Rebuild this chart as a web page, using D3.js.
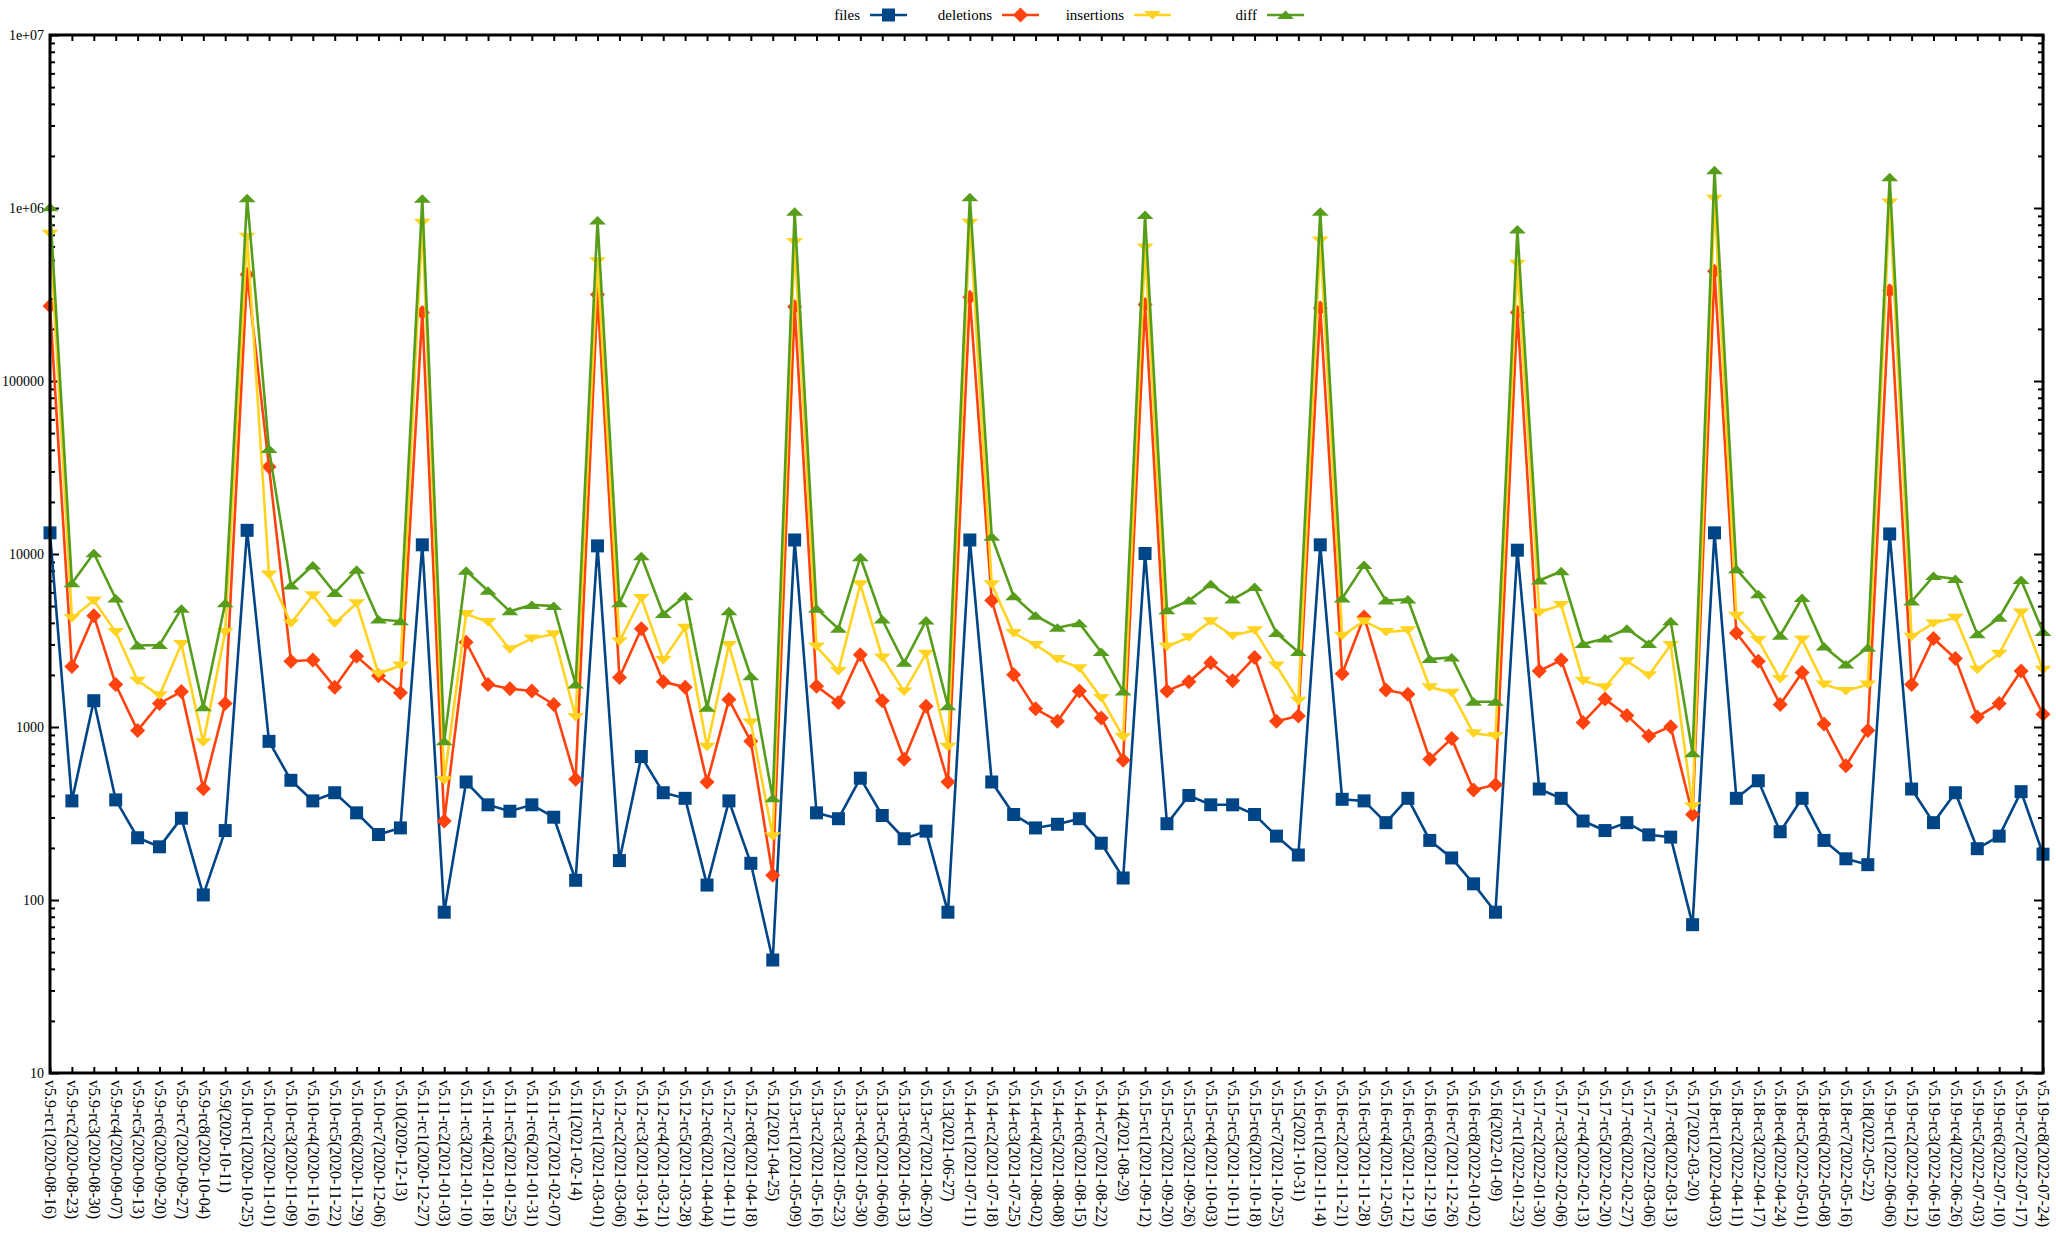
<!DOCTYPE html>
<html><head><meta charset="utf-8">
<script src="https://cdn.jsdelivr.net/npm/d3@7"></script>
<style>body{margin:0;background:#fff}svg{display:block}</style>
</head><body><svg id="chart" width="2056" height="1234"></svg>
<script>
const categories = [
"v5.9-rc1(2020-08-16)","v5.9-rc2(2020-08-23)","v5.9-rc3(2020-08-30)","v5.9-rc4(2020-09-07)","v5.9-rc5(2020-09-13)","v5.9-rc6(2020-09-20)","v5.9-rc7(2020-09-27)","v5.9-rc8(2020-10-04)","v5.9(2020-10-11)",
"v5.10-rc1(2020-10-25)","v5.10-rc2(2020-11-01)","v5.10-rc3(2020-11-09)","v5.10-rc4(2020-11-16)","v5.10-rc5(2020-11-22)","v5.10-rc6(2020-11-29)","v5.10-rc7(2020-12-06)","v5.10(2020-12-13)",
"v5.11-rc1(2020-12-27)","v5.11-rc2(2021-01-03)","v5.11-rc3(2021-01-10)","v5.11-rc4(2021-01-18)","v5.11-rc5(2021-01-25)","v5.11-rc6(2021-01-31)","v5.11-rc7(2021-02-07)","v5.11(2021-02-14)",
"v5.12-rc1(2021-03-01)","v5.12-rc2(2021-03-06)","v5.12-rc3(2021-03-14)","v5.12-rc4(2021-03-21)","v5.12-rc5(2021-03-28)","v5.12-rc6(2021-04-04)","v5.12-rc7(2021-04-11)","v5.12-rc8(2021-04-18)","v5.12(2021-04-25)",
"v5.13-rc1(2021-05-09)","v5.13-rc2(2021-05-16)","v5.13-rc3(2021-05-23)","v5.13-rc4(2021-05-30)","v5.13-rc5(2021-06-06)","v5.13-rc6(2021-06-13)","v5.13-rc7(2021-06-20)","v5.13(2021-06-27)",
"v5.14-rc1(2021-07-11)","v5.14-rc2(2021-07-18)","v5.14-rc3(2021-07-25)","v5.14-rc4(2021-08-02)","v5.14-rc5(2021-08-08)","v5.14-rc6(2021-08-15)","v5.14-rc7(2021-08-22)","v5.14(2021-08-29)",
"v5.15-rc1(2021-09-12)","v5.15-rc2(2021-09-20)","v5.15-rc3(2021-09-26)","v5.15-rc4(2021-10-03)","v5.15-rc5(2021-10-11)","v5.15-rc6(2021-10-18)","v5.15-rc7(2021-10-25)","v5.15(2021-10-31)",
"v5.16-rc1(2021-11-14)","v5.16-rc2(2021-11-21)","v5.16-rc3(2021-11-28)","v5.16-rc4(2021-12-05)","v5.16-rc5(2021-12-12)","v5.16-rc6(2021-12-19)","v5.16-rc7(2021-12-26)","v5.16-rc8(2022-01-02)","v5.16(2022-01-09)",
"v5.17-rc1(2022-01-23)","v5.17-rc2(2022-01-30)","v5.17-rc3(2022-02-06)","v5.17-rc4(2022-02-13)","v5.17-rc5(2022-02-20)","v5.17-rc6(2022-02-27)","v5.17-rc7(2022-03-06)","v5.17-rc8(2022-03-13)","v5.17(2022-03-20)",
"v5.18-rc1(2022-04-03)","v5.18-rc2(2022-04-11)","v5.18-rc3(2022-04-17)","v5.18-rc4(2022-04-24)","v5.18-rc5(2022-05-01)","v5.18-rc6(2022-05-08)","v5.18-rc7(2022-05-16)","v5.18(2022-05-22)",
"v5.19-rc1(2022-06-06)","v5.19-rc2(2022-06-12)","v5.19-rc3(2022-06-19)","v5.19-rc4(2022-06-26)","v5.19-rc5(2022-07-03)","v5.19-rc6(2022-07-10)","v5.19-rc7(2022-07-17)","v5.19-rc8(2022-07-24)"
];

const files = [
13250,374,1419,379,229,203,297,107,252,13700,826,492,374,417,319,239,
261,11300,85,481,355,326,355,301,130,11140,169,675,417,387,122,
374,163,45,12050,319,295,506,308,226,250,85,12050,481,312,261,
274,295,213,134,10070,276,402,355,355,312,234,182,11300,382,374,
280,387,221,175,124,85,10520,438,387,286,252,280,238,231,72,
13250,387,489,248,387,221,173,160,13060,438,280,417,198,234,423,184];

const deletions = [
271000,2234,4400,1762,955,1368,1604,439,1368,412000,31900,2400,2437,1700,2560,1980,
1580,249000,286,3090,1762,1663,1616,1349,499,316000,1933,3700,1825,1700,481,
1440,826,139,269000,1722,1387,2620,1419,652,1318,481,305000,5380,2004,1273,
1080,1616,1127,643,277000,1616,1825,2350,1853,2525,1080,1159,264000,2032,4330,
1637,1546,652,857,432,464,249000,2110,2437,1063,1450,1167,888,1005,312,
431000,3490,2400,1349,2065,1040,597,955,332000,1762,3250,2490,1143,1368,2110,1185];

const insertions = [
710000,4270,5380,3540,1853,1525,3020,815,3540,682000,7600,3980,5780,3980,5190,2032,
2265,823000,492,4500,4040,2810,3250,3440,1143,493000,3130,5570,2440,3750,769,
2980,1063,234,635000,2915,2110,6680,2525,1603,2655,769,823000,6680,3490,2980,
2470,2188,1470,875,592000,2915,3300,4090,3370,3620,2265,1419,649000,3370,4090,
3540,3620,1700,1580,920,888,476000,4590,5080,1853,1700,2400,1990,2980,348,
1130000,4400,3180,1893,3200,1762,1616,1762,1075000,3320,3980,4280,2140,2655,4590,2140];

const diff = [
1010000,6780,10100,5530,2960,2980,4830,1300,5190,1140000,40400,6570,8590,5960,8110,4180,
4090,1130000,826,8000,6130,4660,5080,5010,1762,847000,5190,9700,4500,5700,1290,
4660,1963,387,951000,4830,3700,9580,4180,2350,4120,1318,1155000,12600,5700,4400,
3750,3980,2710,1603,910000,4730,5380,6680,5460,6440,3490,2710,951000,5530,8650,
5380,5460,2470,2525,1400,1400,750000,7030,7940,3020,3250,3700,3020,4090,705,
1655000,8170,5860,3370,5570,2915,2300,2875,1507000,5310,7450,7180,3440,4280,7080,3540];

const seriesNames = ["files","deletions","insertions","diff"];
const seriesColors = ["#004586","#ff420e","#ffd320","#579d1c"];
const yTickValues = [10,100,1000,10000,100000,1e6,1e7];
const yTickLabels = ["10","100","1000","10000","100000","1e+06","1e+07"];

const seriesData = [files, deletions, insertions, diff];
const markers = ["square","diamond","tridown","triup"];

const svg = d3.select("#chart");
const L = 50, R = 2043, T = 35, B = 1073;
const FONT = "'Liberation Serif','Times New Roman',serif";

const x = d3.scalePoint().domain(categories).range([L, R]);
const y = d3.scaleLog().domain([10, 1e7]).range([B, T]);

function markerPath(type) {
  switch (type) {
    case "square": return "M-6.5,-6.5H6.5V6.5H-6.5Z";
    case "diamond": return "M0,-7.5L7.5,0L0,7.5L-7.5,0Z";
    case "tridown": return "M-8.5,-4H8.5L0,4.5Z";
    case "triup": return "M-8.5,4H8.5L0,-4.5Z";
  }
}

const minor = [];
for (let e = 1; e < 7; e++) for (let m = 2; m <= 9; m++) minor.push(m * Math.pow(10, e));

const gAxes = svg.append("g").attr("font-family", FONT);

const yLeft = d3.axisLeft(y).tickValues(yTickValues)
  .tickFormat((d, i) => yTickLabels[i]).tickSizeInner(-9).tickSizeOuter(0).tickPadding(6);
const gl = gAxes.append("g").attr("transform", `translate(${L},0)`).call(yLeft);
gl.select(".domain").remove();
gl.selectAll("line").attr("stroke", "#000").attr("stroke-width", 2);
gl.selectAll("text").attr("font-size", 14).attr("font-family", FONT).attr("fill", "#000");

const yLeftMinor = d3.axisLeft(y).tickValues(minor).tickFormat("").tickSizeInner(-5).tickSizeOuter(0);
const glm = gAxes.append("g").attr("transform", `translate(${L},0)`).call(yLeftMinor);
glm.select(".domain").remove();
glm.selectAll("line").attr("stroke", "#000").attr("stroke-width", 2);

const yRight = d3.axisRight(y).tickValues(yTickValues).tickFormat("").tickSizeInner(-9).tickSizeOuter(0);
const gr = gAxes.append("g").attr("transform", `translate(${R},0)`).call(yRight);
gr.select(".domain").remove();
gr.selectAll("line").attr("stroke", "#000").attr("stroke-width", 2);
const yRightMinor = d3.axisRight(y).tickValues(minor).tickFormat("").tickSizeInner(-5).tickSizeOuter(0);
const grm = gAxes.append("g").attr("transform", `translate(${R},0)`).call(yRightMinor);
grm.select(".domain").remove();
grm.selectAll("line").attr("stroke", "#000").attr("stroke-width", 2);

const xBottom = d3.axisBottom(x).tickSizeInner(-6).tickSizeOuter(0);
const gb = gAxes.append("g").attr("transform", `translate(0,${B})`).call(xBottom);
gb.select(".domain").remove();
gb.selectAll("line").attr("stroke", "#000").attr("stroke-width", 2);
gb.selectAll("text")
  .attr("font-size", 16).attr("font-family", FONT).attr("fill", "#000")
  .attr("transform", "rotate(90)")
  .attr("x", 7).attr("y", 0).attr("dy", "0.33em")
  .attr("text-anchor", "start");

const xTop = d3.axisTop(x).tickSizeInner(-6).tickSizeOuter(0).tickFormat("");
const gt = gAxes.append("g").attr("transform", `translate(0,${T})`).call(xTop);
gt.select(".domain").remove();
gt.selectAll("line").attr("stroke", "#000").attr("stroke-width", 2);

const gPlot = svg.append("g");
seriesData.forEach((vals, si) => {
  const pts = vals.map((v, i) => [x(categories[i]), y(v)]);
  gPlot.append("path")
    .attr("d", d3.line()(pts))
    .attr("fill", "none").attr("stroke", seriesColors[si])
    .attr("stroke-width", 2.6).attr("stroke-linejoin", "miter");
  gPlot.append("g").selectAll("path").data(pts).enter().append("path")
    .attr("d", markerPath(markers[si]))
    .attr("transform", d => `translate(${d[0]},${d[1]})`)
    .attr("fill", seriesColors[si]);
});

svg.append("rect").attr("x", L).attr("y", T).attr("width", R - L).attr("height", B - T)
  .attr("fill", "none").attr("stroke", "#000").attr("stroke-width", 3);

const legendX = [860, 992, 1124, 1257];
const legendY = 15;
const gLeg = svg.append("g").attr("font-family", FONT);
seriesNames.forEach((name, si) => {
  const lx = legendX[si];
  gLeg.append("text").attr("x", lx).attr("y", legendY).attr("dy", "0.33em")
    .attr("text-anchor", "end").attr("font-size", 15).attr("fill", "#000").text(name);
  gLeg.append("line").attr("x1", lx + 10).attr("x2", lx + 47)
    .attr("y1", legendY).attr("y2", legendY)
    .attr("stroke", seriesColors[si]).attr("stroke-width", 2.6);
  gLeg.append("path").attr("d", markerPath(markers[si]))
    .attr("transform", `translate(${lx + 28.5},${legendY})`)
    .attr("fill", seriesColors[si]);
});
</script>
</body></html>
